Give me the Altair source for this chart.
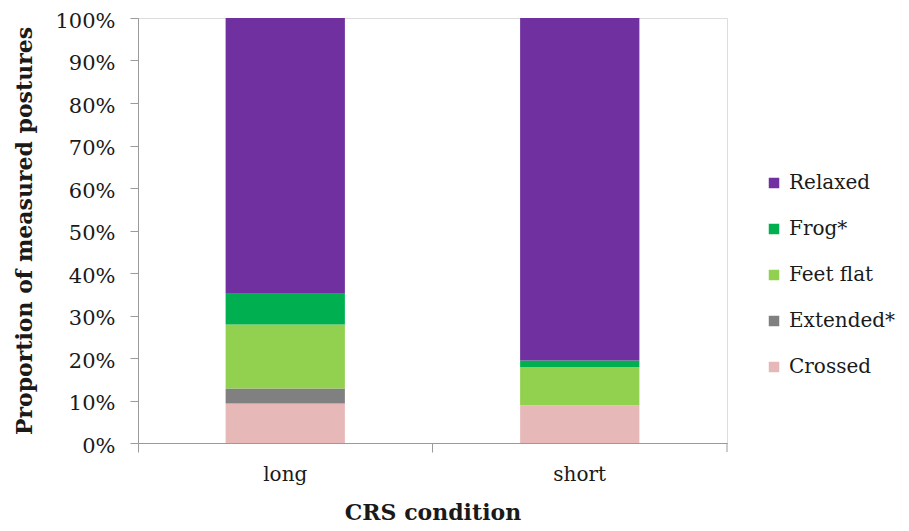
import altair as alt
import pandas as pd

conditions = ["long", "short"]
postures = ["Crossed", "Extended*", "Feet flat", "Frog*", "Relaxed"]
long_vals = [0.093, 0.035, 0.151, 0.072, 0.649]
short_vals = [0.089, 0.0, 0.090, 0.015, 0.806]
colors = ["#E6B9B8", "#808080", "#92D050", "#00B050", "#7030A0"]

rows = []
for cond, vals in zip(conditions, [long_vals, short_vals]):
    for i, (p, v) in enumerate(zip(postures, vals)):
        rows.append({"condition": cond, "posture": p, "value": v, "rank": i})
df = pd.DataFrame(rows)

FONT = "DejaVu Serif"
TXT = "#1a1a1a"
AX = "#9a9a9a"
W, H = 589, 425

bars = alt.Chart(df).mark_bar(width=alt.RelativeBandSize(0.405)).encode(
    x=alt.X("condition:N", title="CRS condition",
            scale=alt.Scale(paddingInner=0, paddingOuter=0),
            axis=alt.Axis(labelAngle=0, bandPosition=0, labelPadding=12,
                          labelFontSize=20, titleFontSize=22, titlePadding=18,
                          tickSize=9, tickColor=AX, domainColor=AX,
                          labelFont=FONT, titleFont=FONT, labelColor=TXT,
                          titleColor=TXT, titleFontWeight="bold")),
    y=alt.Y("value:Q", stack="zero", title="Proportion of measured postures",
            scale=alt.Scale(domain=[0, 1]),
            axis=alt.Axis(format=".0%", values=[i / 10 for i in range(11)],
                          grid=False, tickSize=8, tickColor=AX,
                          domainColor=AX, labelFontSize=21, labelOffset=3,
                          titleFontSize=22, labelFont=FONT, titleFont=FONT,
                          labelColor=TXT, titleColor=TXT,
                          titleFontWeight="bold", labelPadding=15, titlePadding=18)),
    color=alt.Color("posture:N",
                    scale=alt.Scale(domain=list(reversed(postures)),
                                    range=list(reversed(colors))),
                    legend=alt.Legend(title=None, orient="none", legendX=626,
                                      legendY=155, symbolType="square",
                                      symbolSize=110, symbolStrokeWidth=0,
                                      labelFontSize=20, labelFont=FONT,
                                      labelColor=TXT, rowPadding=26,
                                      labelOffset=5)),
    order=alt.Order("rank:Q", sort="ascending"),
)

endtick = alt.Chart(pd.DataFrame({"a": [0]})).mark_rule(color=AX).encode(
    x=alt.value(W), y=alt.value(H), y2=alt.value(H + 9)
)

chart = alt.layer(bars, endtick).properties(
    width=W, height=H,
    autosize=alt.AutoSizeParams(type="none"),
    padding={"left": 130, "top": 10, "right": 174, "bottom": 80},
).configure_view(stroke=None).configure(background="white")

chart.save("out.html", embed_options={"renderer": "svg", "actions": False})
